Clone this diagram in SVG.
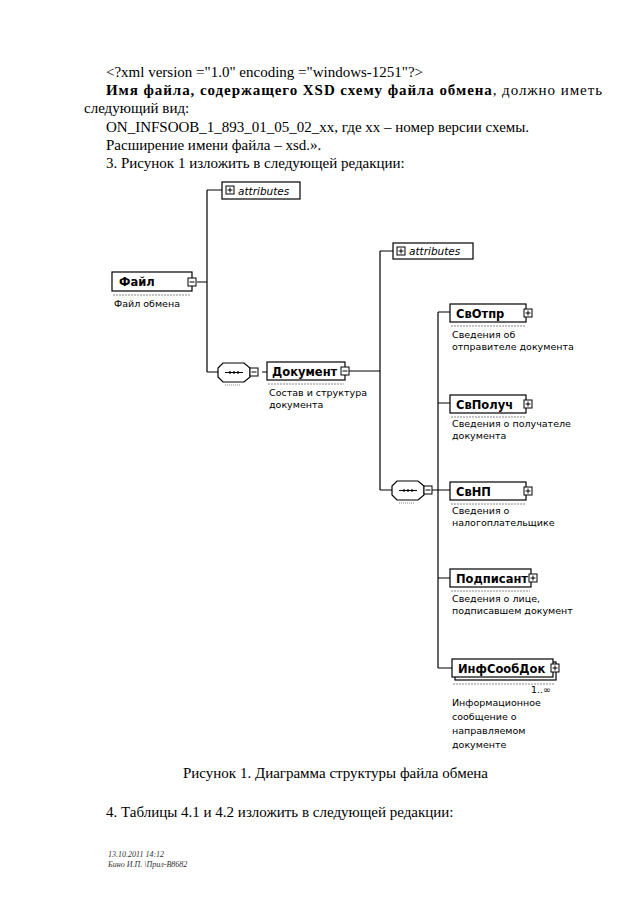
<svg xmlns="http://www.w3.org/2000/svg" width="640" height="905" viewBox="0 0 640 905">
<style>
.t{font-family:"Liberation Serif","Times New Roman",serif;font-size:15px;fill:#000}
.b{font-weight:bold}
.nm{font-family:"DejaVu Sans","Liberation Sans",sans-serif;font-size:11.5px;font-weight:bold;fill:#000}
.ds{font-family:"DejaVu Sans","Liberation Sans",sans-serif;font-size:9.5px;fill:#000}
.at{font-family:"DejaVu Sans","Liberation Sans",sans-serif;font-size:10.5px;font-style:italic;fill:#000}
.box{fill:#fff;stroke:#000;stroke-width:1.2}
.ic{fill:#fff;stroke:#000;stroke-width:1}
.ln{fill:none;stroke:#000;stroke-width:1.2}
.ul{fill:none;stroke:#888;stroke-width:1;stroke-dasharray:2 1}
.ft{font-family:"Liberation Serif","Times New Roman",serif;font-size:8px;font-style:italic;fill:#333}
</style>
<defs>
<g id="plus"><rect class="ic" x="0" y="0" width="8" height="8"/><path d="M1.5 4H6.5M4 1.5V6.5" stroke="#000" stroke-width="1"/></g>
<g id="minus"><rect class="ic" x="0" y="0" width="8" height="8"/><path d="M1.5 4H6.5" stroke="#000" stroke-width="1"/></g>
<g id="seq"><path class="box" d="M5 0H26L32 5V14L26 19H5L0 14V5Z"/><path d="M7 9.5H25" stroke="#000" stroke-width="1"/><circle cx="12" cy="9.5" r="1.2"/><circle cx="16" cy="9.5" r="1.2"/><circle cx="20" cy="9.5" r="1.2"/><path d="M7 22H22" stroke="#888" stroke-width="1" stroke-dasharray="1 1"/></g>
</defs>

<g id="text-top">
<text class="t" x="106" y="77">&lt;?xml version ="1.0" encoding ="windows-1251"?&gt;</text>
<text class="t" x="106" y="95" textLength="496" lengthAdjust="spacing"><tspan class="b">Имя файла, содержащего XSD схему файла обмена</tspan>, должно иметь</text>
<text class="t" x="84" y="113">следующий вид:</text>
<text class="t" x="106" y="132">ON_INFSOOB_1_893_01_05_02_xx, где xx – номер версии схемы.</text>
<text class="t" x="106" y="150">Расширение имени файла – xsd.».</text>
<text class="t" x="106" y="168">3. Рисунок 1 изложить в следующей редакции:</text>
</g>

<g id="connectors">
<path class="ln" d="M197 282H207M207 190V372M207 190H222M207 372H218"/>
<path class="ln" d="M250 372H254M262 372H267"/>
<path class="ln" d="M349 371H380M380 251V490M380 251H393M380 490H392"/>
<path class="ln" d="M432 490H450M438 312V668M438 312H450M438 403H450M438 578H450M438 668H452"/>
</g>

<g id="node-attr1">
<rect class="box" x="222" y="182" width="78" height="17"/>
<use href="#plus" x="226" y="186"/>
<text class="at" x="238" y="194.5">attributes</text>
</g>

<g id="node-fail">
<rect class="box" x="112" y="272" width="80" height="19"/>
<text class="nm" x="119" y="286">Файл</text>
<use href="#minus" x="188" y="278"/>
<path class="ul" d="M113 295H191"/>
<text class="ds" x="114" y="307">Файл обмена</text>
</g>

<g id="node-seq1">
<use href="#seq" x="218" y="363"/>
<use href="#minus" x="250" y="368"/>
</g>

<g id="node-dokument">
<rect class="box" x="267" y="362" width="78" height="18"/>
<text class="nm" x="272" y="375.5">Документ</text>
<use href="#minus" x="341" y="367"/>
<path class="ul" d="M268 384H344"/>
<text class="ds" x="269" y="396">Состав и структура</text>
<text class="ds" x="269" y="408">документа</text>
</g>

<g id="node-attr2">
<rect class="box" x="393" y="243" width="80" height="16"/>
<use href="#plus" x="397" y="247"/>
<text class="at" x="409" y="255">attributes</text>
</g>

<g id="node-seq2">
<use href="#seq" x="392" y="481"/>
<use href="#minus" x="424" y="486"/>
</g>

<g id="node-svotpr">
<rect class="box" x="450" y="304" width="76" height="18"/>
<text class="nm" x="456" y="317.5">СвОтпр</text>
<use href="#plus" x="524" y="309"/>
<path class="ul" d="M451 326H525"/>
<text class="ds" x="452" y="338">Сведения об</text>
<text class="ds" x="452" y="350">отправителе документа</text>
</g>

<g id="node-svpoluch">
<rect class="box" x="450" y="395" width="76" height="18"/>
<text class="nm" x="456" y="408.5">СвПолуч</text>
<use href="#plus" x="524" y="400"/>
<path class="ul" d="M451 417H525"/>
<text class="ds" x="452" y="427">Сведения о получателе</text>
<text class="ds" x="452" y="439">документа</text>
</g>

<g id="node-svnp">
<rect class="box" x="450" y="482" width="76" height="18"/>
<text class="nm" x="456" y="495.5">СвНП</text>
<use href="#plus" x="524" y="487"/>
<path class="ul" d="M451 504H525"/>
<text class="ds" x="452" y="514">Сведения о</text>
<text class="ds" x="452" y="526">налогоплательщике</text>
</g>

<g id="node-podpisant">
<rect class="box" x="450" y="569" width="81" height="18"/>
<text class="nm" x="456" y="582.5">Подписант</text>
<use href="#plus" x="529" y="574"/>
<path class="ul" d="M451 591H530"/>
<text class="ds" x="452" y="602">Сведения о лице,</text>
<text class="ds" x="452" y="614">подписавшем документ</text>
</g>

<g id="node-infsoobdok">
<rect class="box" x="455" y="662" width="101" height="18"/>
<rect class="box" x="452" y="659" width="101" height="18"/>
<text class="nm" x="458" y="672.5">ИнфСообДок</text>
<use href="#plus" x="551" y="664"/>
<path class="ul" d="M453 684H554"/>
<text class="ds" x="551" y="693" text-anchor="end">1..∞</text>
<text class="ds" x="452" y="706">Информационное</text>
<text class="ds" x="452" y="720">сообщение о</text>
<text class="ds" x="452" y="734">направляемом</text>
<text class="ds" x="452" y="748">документе</text>
</g>

<g id="text-bottom">
<text class="t" x="183" y="778">Рисунок 1. Диаграмма структуры файла обмена</text>
<text class="t" x="106" y="817">4. Таблицы 4.1 и 4.2 изложить в следующей редакции:</text>
<text class="ft" x="108" y="857">13.10.2011 14:12</text>
<text class="ft" x="108" y="867">Бино И.П. \Прил-В8682</text>
</g>
</svg>
